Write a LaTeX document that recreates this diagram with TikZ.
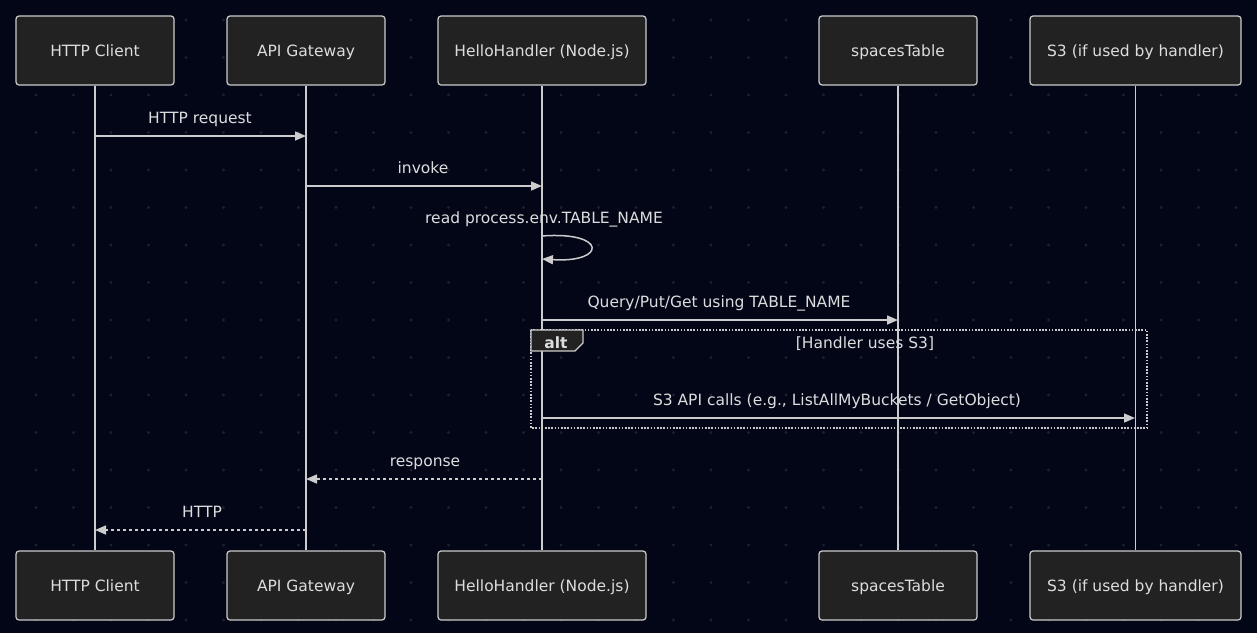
\documentclass[tikz,border=0pt]{standalone}
\usepackage{fontspec}
\setmainfont{DejaVu Sans}
\usetikzlibrary{arrows.meta}
\definecolor{bg}{HTML}{020617}
\definecolor{dotc}{HTML}{1C2130}
\definecolor{boxfill}{HTML}{222222}
\definecolor{linec}{HTML}{CCCCCC}
\definecolor{txt}{HTML}{DDDDDD}
\tikzset{
  actor/.style={draw=linec, fill=boxfill, line width=1.2pt, rounded corners=3pt,
    minimum height=69pt, inner sep=0pt, text=txt, text height=11.3pt, text depth=0pt,
    font=\fontsize{15.5}{18}\selectfont},
  life/.style={draw=linec, line width=1.5pt},
  msg/.style={draw=linec, line width=1.5pt, -{Triangle[length=11pt,width=9pt]}},
  reply/.style={msg, dash pattern=on 3pt off 3pt},
  lbl/.style={text=txt, font=\fontsize{15.5}{18}\selectfont, inner sep=0pt, anchor=base},
}
\begin{document}
\begin{tikzpicture}[x=1pt,y=-1pt]
\fill[bg] (0,0) rectangle (1257,633);
\useasboundingbox (0,0) rectangle (1257,633);
% dot grid
\foreach \i in {0,...,34} {
  \foreach \j in {0,...,16} {
    \fill[dotc] ({-1.5+37.5*\i},{20+37.5*\j}) circle (1.6);
  }
}
% actors top
\node[actor, minimum width=158pt] (a1t) at (95,50.5) {HTTP Client};
\node[actor, minimum width=158pt] (a2t) at (306,50.5) {API Gateway};
\node[actor, minimum width=208pt] (a3t) at (542,50.5) {HelloHandler (Node.js)};
\node[actor, minimum width=158pt] (a4t) at (898,50.5) {spacesTable};
\node[actor, minimum width=211pt] (a5t) at (1135.5,50.5) {S3 (if used by handler)};
% actors bottom
\node[actor, minimum width=158pt] (a1b) at (95,585.5) {HTTP Client};
\node[actor, minimum width=158pt] (a2b) at (306,585.5) {API Gateway};
\node[actor, minimum width=208pt] (a3b) at (542,585.5) {HelloHandler (Node.js)};
\node[actor, minimum width=158pt] (a4b) at (898,585.5) {spacesTable};
\node[actor, minimum width=211pt] (a5b) at (1135.5,585.5) {S3 (if used by handler)};
% lifelines
\draw[life] (a1t.south) -- (a1b.north);
\draw[life] (a2t.south) -- (a2b.north);
\draw[life] (a3t.south) -- (a3b.north);
\draw[life] (a4t.south) -- (a4b.north);
\draw[life] (a5t.south) -- (a5b.north);
% alt frame
\draw[linec, line width=1.6pt, dash pattern=on 1.6pt off 1.6pt] (531,330) rectangle (1147,428);
\node[coordinate] (altA) at (531,330) {};
\filldraw[draw=linec, fill=boxfill, line width=1.2pt] (altA) -- (583,330) -- (583,343) -- (575,351) -- (531,351) -- cycle;
\node[lbl, font=\fontsize{15.5}{18}\selectfont\bfseries] (altl) at (556,348) {alt};
\node[lbl] (altc) at (865,348) {[Handler uses S3]};
% message coordinates
\coordinate (m1s) at (95,136);   \coordinate (m1e) at (306,136);
\coordinate (m2s) at (306,186);  \coordinate (m2e) at (542,186);
\coordinate (m3s) at (542,236);  \coordinate (m3e) at (542,259);
\coordinate (m4s) at (542,320);  \coordinate (m4e) at (898,320);
\coordinate (m5s) at (542,418);  \coordinate (m5e) at (1135,418);
\coordinate (m6s) at (542,479);  \coordinate (m6e) at (306,479);
\coordinate (m7s) at (306,530);  \coordinate (m7e) at (95,530);
% messages
\draw[msg] (m1s) -- (m1e);
\node[lbl] (t1) at (200,123) {HTTP request};
\draw[msg] (m2s) -- (m2e);
\node[lbl] (t2) at (423,173) {invoke};
\draw[msg] (m3s) .. controls (607,231) and (607,263) .. (m3e);
\node[lbl] (t3) at (544,223) {read process.env.TABLE\_NAME};
\draw[msg] (m4s) -- (m4e);
\node[lbl] (t4) at (719,307) {Query/Put/Get using TABLE\_NAME};
\draw[msg] (m5s) -- (m5e);
\node[lbl] (t5) at (837,405) {S3 API calls (e.g., ListAllMyBuckets / GetObject)};
\draw[reply] (m6s) -- (m6e);
\node[lbl] (t6) at (425,466) {response};
\draw[reply] (m7s) -- (m7e);
\node[lbl] (t7) at (202,517) {HTTP};
\end{tikzpicture}
\end{document}
